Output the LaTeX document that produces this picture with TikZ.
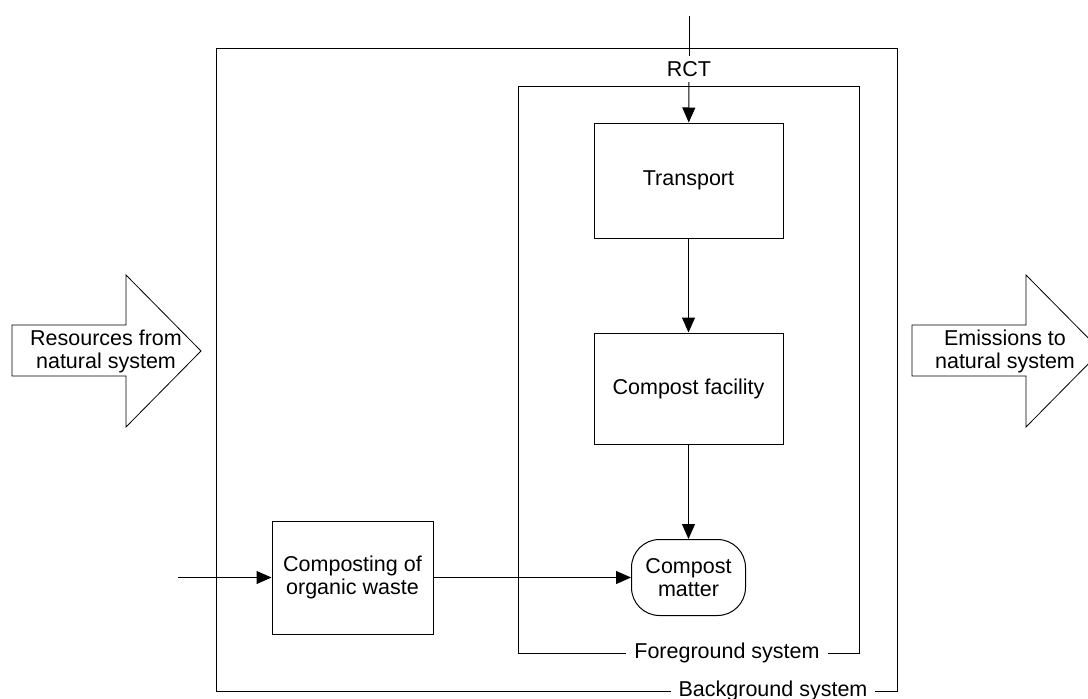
\documentclass[tikz,border=0pt]{standalone}
\usepackage{fontspec}
\setmainfont{Liberation Sans}
\usetikzlibrary{arrows.meta}
\begin{document}
\begin{tikzpicture}[x=1pt,y=-1pt,
  line width=1pt,
  every node/.style={font=\fontsize{21.5}{23}\selectfont, align=center},
  proc/.style={draw, rectangle, inner sep=0pt},
  flow/.style={-{Triangle[length=15pt,width=13pt]}},
  syslabel/.style={fill=white, inner xsep=8pt, inner ysep=1pt},
  bigarrow/.style={draw, fill=white, line width=0.8pt}
]
\useasboundingbox (0,0) rectangle (1088,699);

% system boundaries
\draw (216,48) rectangle (897,691);
\draw (518,86) rectangle (859,653);
\node[syslabel] (fglabel) at (727,653) {Foreground system};
\node[syslabel] (bglabel) at (773,691) {Background system};

% flows into and out of the natural system
\draw[bigarrow] (12,325) -- (126,325) -- (126,275) -- (201,351) -- (126,427) -- (126,376) -- (12,376) -- cycle;
\node (res) at (106,351) {Resources from\\natural system};
\draw[bigarrow] (912,325) -- (1026,325) -- (1026,275) -- (1101,351) -- (1026,427) -- (1026,376) -- (912,376) -- cycle;
\node (emi) at (1005,351) {Emissions to\\natural system};

% processes
\node[proc, minimum width=189pt, minimum height=115pt] (transport) at (688.5,180.5) {Transport};
\node[proc, minimum width=189pt, minimum height=111pt] (facility) at (688.5,388.5) {Compost facility};
\node[proc, rounded corners=28pt, minimum width=114pt, minimum height=76pt] (matter) at (688.5,577.5) {Compost\\matter};
\node[proc, minimum width=161pt, minimum height=113pt] (composting) at (352.5,577.5) {Composting of\\organic waste};

% RCT input
\coordinate (rctin) at (689,16);
\node[inner sep=5pt] (rct) at (689,69) {RCT};
\draw (rctin) -- (rct);
\draw[flow] (rct) -- (transport);

% connectors
\draw[flow] (transport) -- (facility);
\draw[flow] (facility) -- (matter);
\draw[flow] (composting) -- (matter);
\coordinate (src) at (178,577.5);
\draw[flow] (src) -- (composting);
\end{tikzpicture}
\end{document}
